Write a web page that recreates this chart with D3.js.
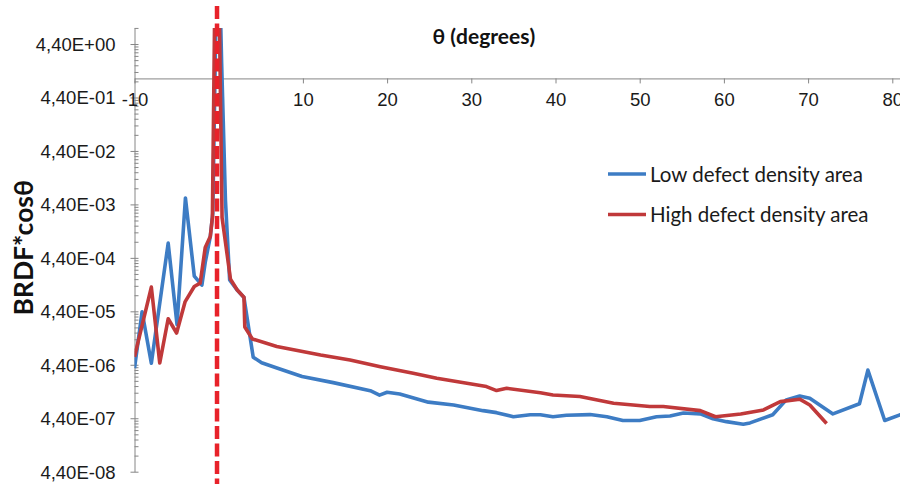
<!DOCTYPE html>
<html><head><meta charset="utf-8">
<script src="https://cdn.jsdelivr.net/npm/d3@7"></script>
<style>
body{margin:0;background:#fff;overflow:hidden}
svg{display:block;font-family:Lato,"Open Sans",sans-serif}
</style>
</head><body>
<svg id="chart" width="900" height="484"></svg>
<script>
// ---------------- data ----------------
const lowTheta = [-10, -9.1, -8, -6, -4.95, -3.95, -2.9, -2.0, -1.6, -1.0, -0.7, -0.35, 0.25, 0.35, 0.8, 1.3, 2.2, 3.0, 4.1, 5.1, 7.0, 9.9, 13.6, 18.0, 19.1, 20.0, 21.5, 24.9, 27.9, 31.4, 33.0, 35.0, 37.0, 38.2, 39.7, 41.3, 44.1, 46.1, 48.0, 50.0, 52.0, 53.6, 55.2, 57.2, 58.7, 60.3, 62.3, 63.1, 65.8, 67.4, 69.0, 70.2, 72.95, 76.1, 77.1, 79.1, 80.9, 82];
const lowValues = [3.8e-6, 4.3e-5, 4.7e-6, 8.3e-4, 2.5e-5, 5.8e-3, 2.0e-4, 1.36e-4, 3.6e-4, 1.1e-3, 3e-3, 8.8, 8.8, 1.9, 5.3e-3, 1.7e-4, 1.1e-4, 8.0e-5, 6.1e-6, 4.8e-6, 3.8e-6, 2.66e-6, 2.04e-6, 1.44e-6, 1.19e-6, 1.35e-6, 1.25e-6, 8.8e-7, 7.8e-7, 6.1e-7, 5.6e-7, 4.7e-7, 5.1e-7, 5.1e-7, 4.7e-7, 5.0e-7, 5.15e-7, 4.7e-7, 4.0e-7, 4.0e-7, 4.7e-7, 4.85e-7, 5.5e-7, 5.3e-7, 4.3e-7, 3.8e-7, 3.4e-7, 3.6e-7, 5.1e-7, 9.7e-7, 1.15e-6, 1.04e-6, 5.3e-7, 8.2e-7, 3.5e-6, 4.0e-7, 5.1e-7, 5.8e-7];

const highTheta = [-10, -8, -7, -6, -5, -4, -2.9, -2.2, -1.6, -1.0, -0.75, -0.5, 0.1, 0.4, 1.4, 2.2, 3.0, 3.1, 4.0, 6.9, 12.1, 15.6, 19.2, 23.1, 25.9, 31.8, 33.0, 34.2, 38.2, 39.7, 42.9, 46.9, 51.2, 52.8, 57.2, 59.0, 62.0, 64.7, 66.7, 69.0, 70.2, 72.2];
const highValues = [6.2e-6, 1.25e-4, 4.75e-6, 3.2e-5, 1.73e-5, 6.6e-5, 1.28e-4, 1.48e-4, 6.9e-4, 1.1e-3, 2.5e-3, 8.8, 8.8, 2.5e-3, 1.76e-4, 1.1e-4, 8.1e-5, 2.24e-5, 1.34e-5, 9.7e-6, 6.7e-6, 5.4e-6, 4.05e-6, 3.05e-6, 2.46e-6, 1.72e-6, 1.45e-6, 1.6e-6, 1.32e-6, 1.2e-6, 1.12e-6, 8.4e-7, 7.3e-7, 7.3e-7, 6.1e-7, 4.7e-7, 5.3e-7, 6.3e-7, 9.0e-7, 1.0e-6, 7.8e-7, 3.5e-7];

const seriesNames = ["Low defect density area", "High defect density area"];
const xTickValues = [-10, 0, 10, 20, 30, 40, 50, 60, 70, 80, 90];
const yTickValues = [4.4e0, 4.4e-1, 4.4e-2, 4.4e-3, 4.4e-4, 4.4e-5, 4.4e-6, 4.4e-7, 4.4e-8];
const yTickLabels = ["4,40E+00", "4,40E-01", "4,40E-02", "4,40E-03", "4,40E-04", "4,40E-05", "4,40E-06", "4,40E-07", "4,40E-08"];
const minorMultipliers = [2, 3, 4, 5, 6, 7, 8, 9];
const xDomain = [-10, 90];
const yDomain = [4.4e-8, 8.8];
const xCross = 1;            // x axis crosses the value axis at 1
const specularAngle = -0.2;  // vertical dashed marker
const xTitle = "θ (degrees)";
const yTitle = "BRDF*cosθ";

// ---------------- layout ----------------
const svg = d3.select("#chart");
const colors = ["#3d7cc4", "#c0393a"];
const axisColor = "#868686";
const tickFont = 18.5;

const x = d3.scaleLinear().domain(xDomain).range([134.5, 134.5 + 100 * 8.42]);
const y = d3.scaleLog().domain(yDomain).range([471.7, 471.7 - Math.log10(yDomain[1] / yDomain[0]) * 53.46]);

const axisX0 = x(xDomain[0]);
const plotTop = y(yDomain[1]), plotBottom = y(yDomain[0]);

svg.append("defs").append("clipPath").attr("id", "plotclip")
  .append("rect").attr("x", axisX0).attr("y", plotTop).attr("width", 900).attr("height", plotBottom - plotTop);

// y axis (majors, labels)
const yAxis = d3.axisLeft(y).tickValues(yTickValues)
  .tickFormat((d, i) => yTickLabels[i]).tickSizeInner(4).tickSizeOuter(0).tickPadding(15);
const gy = svg.append("g").attr("transform", `translate(${axisX0},0)`).call(yAxis);
gy.select(".domain").attr("stroke", axisColor).attr("stroke-width", 1);
gy.selectAll(".tick line").attr("stroke", axisColor).attr("x2", -4).attr("x1", 4);
gy.selectAll(".tick text").attr("fill", "#1a1a1a").attr("font-size", tickFont).attr("dy", "0.35em");

// minor ticks (inside)
const minorVals = [];
yTickValues.forEach(v => minorMultipliers.forEach(m => { if (v * m <= yDomain[1] * 1.0001) minorVals.push(v * m); }));
const yMinor = d3.axisRight(y).tickValues(minorVals).tickFormat("").tickSizeInner(4).tickSizeOuter(0);
const gym = svg.append("g").attr("transform", `translate(${axisX0},0)`).call(yMinor);
gym.select(".domain").remove();
gym.selectAll(".tick line").attr("stroke", axisColor);

// x axis at y = xCross
const xAxis = d3.axisBottom(x).tickValues(xTickValues).tickFormat(d => d).tickSizeInner(5).tickSizeOuter(0).tickPadding(9);
const gx = svg.append("g").attr("transform", `translate(0,${y(xCross)})`).call(xAxis);
gx.select(".domain").attr("stroke", axisColor).attr("stroke-width", 1);
gx.selectAll(".tick line").attr("stroke", axisColor);
gx.selectAll(".tick text").attr("fill", "#1a1a1a").attr("font-size", tickFont);

// titles
svg.append("text").attr("x", x(31.5)).attr("y", 44).attr("text-anchor", "middle")
  .attr("font-weight", "bold").attr("font-size", 21).attr("fill", "#111").text(xTitle);
svg.append("text").attr("transform", `translate(33,${(plotTop + plotBottom) / 2 - 2}) rotate(-90)`)
  .attr("text-anchor", "middle").attr("font-weight", "bold").attr("font-size", 26.5).attr("fill", "#111").text(yTitle);

// series
const line = d3.line().x(d => x(d[0])).y(d => y(d[1]));
const plot = svg.append("g").attr("clip-path", "url(#plotclip)");
[[lowTheta, lowValues], [highTheta, highValues]].forEach(([t, v], i) => {
  plot.append("path").datum(t.map((a, k) => [a, v[k]]))
    .attr("d", line).attr("fill", "none").attr("stroke", colors[i])
    .attr("stroke-width", 3.6).attr("stroke-linejoin", "round");
});

// dashed specular marker
svg.append("line").attr("x1", x(specularAngle)).attr("x2", x(specularAngle))
  .attr("y1", 6).attr("y2", 484).attr("stroke", "#e8222a").attr("stroke-width", 4.5)
  .attr("stroke-dasharray", "13,4.5");

// legend
const leg = svg.append("g");
seriesNames.forEach((n, i) => {
  const ly = 174 + i * 40.5;
  leg.append("line").attr("x1", 608).attr("x2", 646).attr("y1", ly).attr("y2", ly)
    .attr("stroke", colors[i]).attr("stroke-width", 3.6);
  leg.append("text").attr("x", 650).attr("y", ly + 7.5).attr("font-size", 20.5).attr("fill", "#1a1a1a").text(n);
});
</script>
</body></html>
